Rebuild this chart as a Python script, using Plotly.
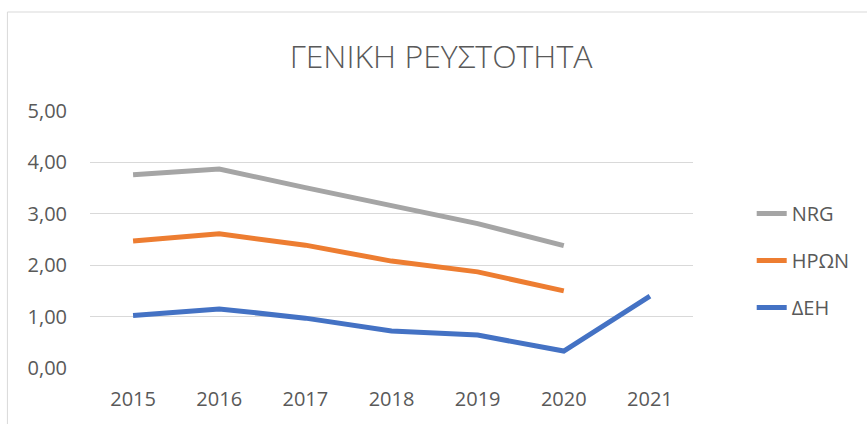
import plotly.graph_objects as go

years = ["2015", "2016", "2017", "2018", "2019", "2020", "2021"]
nrg = [3.76, 3.87, 3.51, 3.17, 2.81, 2.38, None]
iron = [2.47, 2.61, 2.39, 2.08, 1.87, 1.50, None]
deh = [1.02, 1.15, 0.97, 0.72, 0.64, 0.33, 1.40]
y_ticks = [0, 1, 2, 3, 4, 5]
y_tick_labels = ["0,00", "1,00", "2,00", "3,00", "4,00", "5,00"]

series = [("NRG", nrg, "#a5a5a5"), ("ΗΡΩΝ", iron, "#ed7d31"), ("ΔΕΗ", deh, "#4472c4")]

FONT = "Open Sans"
fig = go.Figure()
for name, vals, col in series:
    fig.add_trace(go.Scatter(x=years, y=vals, name=name, mode="lines",
                             line=dict(color=col, width=5), connectgaps=False,
                             legendgroup=name))

L, R, T, B = 90, 171, 111, 56
W, H = 867, 424
pw, ph = W - L - R, H - T - B

fig.update_layout(
    width=W, height=H,
    margin=dict(l=L, r=R, t=T, b=B),
    paper_bgcolor="white", plot_bgcolor="white",
    font=dict(family=FONT, color="#595959", size=20),
    title=dict(text="ΓΕΝΙΚΗ ΡΕΥΣΤΟΤΗΤΑ", x=441 / W, xanchor="center",
               y=1 - 57 / H, yanchor="middle", yref="container",
               font=dict(family=FONT, size=32, color="#595959", weight=300)),
    showlegend=True,
    legend=dict(x=(755 - L) / pw, xanchor="left", y=1 + (T - 194) / ph, yanchor="top",
                font=dict(size=20, color="#595959"), tracegroupgap=18,
                bgcolor="rgba(0,0,0,0)"),
    xaxis=dict(type="category", range=[-0.5, 6.5], showgrid=False, showline=False,
               zeroline=False, ticks="", tickfont=dict(size=20), ticklabelstandoff=17),
    yaxis=dict(range=[0, 5], tickvals=y_ticks, ticktext=y_tick_labels,
               showgrid=True, gridcolor="#d9d9d9", gridwidth=1, zeroline=False,
               showline=False, ticks="", tickfont=dict(size=20), ticklabelstandoff=22),
    shapes=[dict(type="rect", xref="paper", yref="paper",
                 x0=(7 - L) / pw, x1=(W + 20 - L) / pw,
                 y0=-(B + 20) / ph, y1=1 + (T - 12) / ph,
                 line=dict(color="#d9d9d9", width=1), layer="below")],
)
fig.write_html("out.html", config={"displayModeBar": False},
               post_script="document.body.style.margin='0';")
